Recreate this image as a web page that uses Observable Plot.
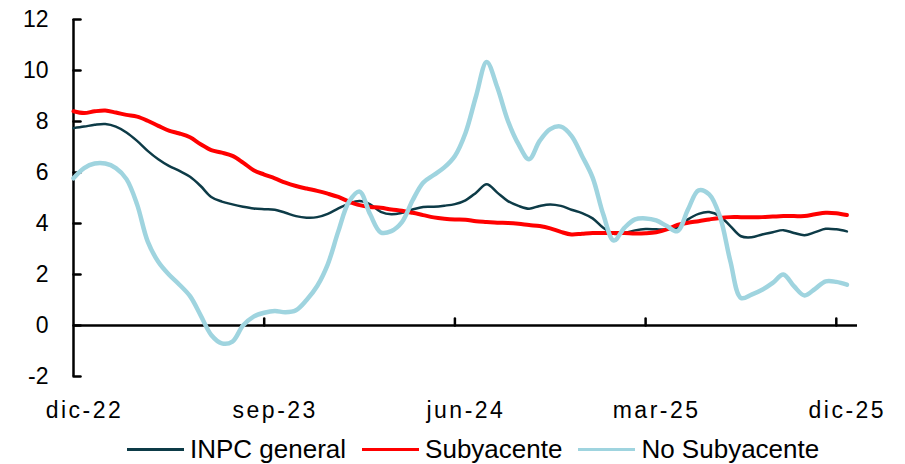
<!DOCTYPE html>
<html>
<head>
<meta charset="utf-8">
<script src="https://cdn.jsdelivr.net/npm/d3@7"></script>
<script src="https://cdn.jsdelivr.net/npm/@observablehq/plot@0.6"></script>
<style>
  html, body { margin: 0; padding: 0; background: #fff; }
  #chart { width: 905px; height: 464px; position: relative; font-family: "Liberation Sans", Arial, sans-serif; }
  #legend { position: absolute; left: 127px; top: 432px; height: 34px; display: flex; align-items: center; font-size: 26px; line-height: 34px; color: #000; white-space: nowrap; }
  .item { display: flex; align-items: center; margin-right: 16px; }
  .sw { width: 57px; height: 3px; margin-right: 6px; }
  g[aria-label="x-axis tick label"] text { letter-spacing: 2.5px; }
</style>
</head>
<body>
<div id="chart"></div>
<script>
// Biweekly (quincenal) annual inflation, 1Q dic-22 ... 2Q dic-25
const seriesNames = ["INPC general", "Subyacente", "No Subyacente"];
const seriesColors = ["#0d3b47", "#ff0000", "#9fd4df"];
const seriesWidths = [2.5, 4, 4.5];

const inpc = [7.74,7.80,7.87,7.90,7.80,7.57,7.24,6.85,6.52,6.26,
  6.06,5.83,5.47,5.04,4.86,4.75,4.66,4.59,4.56,4.54,
  4.42,4.29,4.23,4.25,4.38,4.59,4.78,4.88,4.75,4.46,
  4.36,4.42,4.55,4.65,4.66,4.70,4.76,4.91,5.21,5.54,
  5.21,4.88,4.69,4.58,4.69,4.75,4.69,4.54,4.41,4.20,
  3.83,3.60,3.63,3.73,3.78,3.77,3.77,3.83,4.16,4.38,
  4.45,4.29,3.90,3.50,3.46,3.57,3.66,3.74,3.63,3.54,
  3.66,3.79,3.77,3.69];

const subyacente = [8.40,8.33,8.40,8.43,8.35,8.26,8.19,8.03,7.83,7.64,
  7.53,7.38,7.11,6.88,6.78,6.65,6.39,6.09,5.92,5.77,
  5.60,5.47,5.37,5.28,5.17,5.04,4.86,4.72,4.65,4.62,
  4.55,4.50,4.42,4.33,4.24,4.19,4.16,4.15,4.09,4.06,
  4.03,4.02,3.99,3.94,3.90,3.81,3.67,3.57,3.60,3.63,
  3.63,3.63,3.63,3.61,3.62,3.66,3.77,3.94,4.03,4.09,
  4.16,4.22,4.25,4.25,4.25,4.25,4.27,4.29,4.29,4.29,
  4.36,4.42,4.40,4.33];

const noSubyacente = [5.77,6.17,6.35,6.35,6.17,5.74,4.75,3.30,2.50,2.00,
  1.60,1.15,0.40,-0.37,-0.70,-0.63,0.00,0.35,0.50,0.57,
  0.52,0.60,1.00,1.55,2.40,3.70,4.85,5.25,4.36,3.65,
  3.70,4.05,4.90,5.60,5.90,6.20,6.65,7.55,9.00,10.33,
  9.34,8.03,7.11,6.52,7.24,7.70,7.80,7.44,6.65,5.80,
  4.36,3.33,3.83,4.16,4.20,4.12,3.90,3.70,4.55,5.30,
  5.14,4.29,2.52,1.08,1.21,1.40,1.67,2.00,1.54,1.18,
  1.44,1.73,1.71,1.60];

const xTickPositions = [0, 18, 36, 54, 72];
const xTickLabels = ["dic-22", "sep-23", "jun-24", "mar-25", "dic-25"];
const yTicks = [-2, 0, 2, 4, 6, 8, 10, 12];

const allSeries = [inpc, subyacente, noSubyacente];
const rows = allSeries.flatMap((arr, s) => arr.map((v, i) => ({serie: seriesNames[s], q: i, v})));

const tickShape = {draw(context, l) { context.moveTo(0, 0); context.lineTo(0, -l); }};
const font = '"Liberation Sans", Arial, sans-serif';

const chart = Plot.plot({
  width: 905,
  height: 432,
  marginLeft: 73,
  marginRight: 48,
  marginTop: 19,
  marginBottom: 56,
  style: {fontFamily: font, fontSize: "23px", color: "#000", background: "#fff"},
  x: {type: "linear", domain: [0, 74]},
  y: {domain: [-2, 12]},
  marks: [
    Plot.axisY({ticks: yTicks, tickSize: 0, tickPadding: 25, tickFormat: d => String(d), fontSize: 23, label: null}),
    Plot.axisX({ticks: xTickPositions, tickSize: 0, tickPadding: 25, dx: 11,
      tickFormat: d => xTickLabels[xTickPositions.indexOf(d)], fontSize: 23, label: null}),
    Plot.ruleX([0], {y1: -2, y2: 12, stroke: "#000", strokeWidth: 2.5}),
    Plot.ruleY([0], {x1: 0, x2: 74, stroke: "#000", strokeWidth: 2.5}),
    Plot.vector(yTicks, {x: 0, y: d => d, length: 7, rotate: 90, anchor: "start", shape: tickShape, stroke: "#000", strokeWidth: 2.5}),
    Plot.vector(xTickPositions.slice(1), {x: d => d, y: 0, length: 7, rotate: 0, anchor: "start", shape: tickShape, stroke: "#000", strokeWidth: 2.5}),
    ...seriesNames.map((name, s) => Plot.line(rows.filter(r => r.serie === name), {
      x: "q", y: "v", stroke: seriesColors[s], strokeWidth: seriesWidths[s], curve: "catmull-rom"
    }))
  ]
});

chart.querySelectorAll('g[aria-label="x-axis tick label"] text').forEach(t => {
  t.style.letterSpacing = "2.5px";
});

const root = document.getElementById("chart");
root.appendChild(chart);
const legend = document.createElement("div");
legend.id = "legend";
seriesNames.forEach((name, s) => {
  const it = document.createElement("div");
  it.className = "item";
  const sw = document.createElement("span");
  sw.className = "sw";
  sw.style.background = seriesColors[s];
  const tx = document.createElement("span");
  tx.textContent = name;
  it.appendChild(sw); it.appendChild(tx);
  legend.appendChild(it);
});
root.appendChild(legend);
</script>
</body>
</html>
